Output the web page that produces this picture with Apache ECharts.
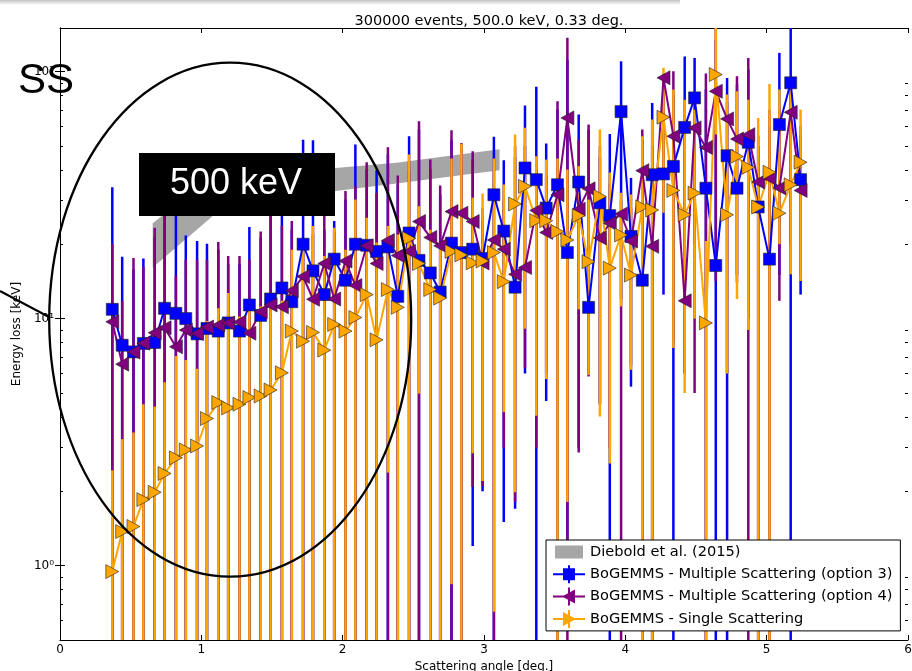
<!DOCTYPE html>
<html>
<head>
<meta charset="utf-8">
<script src="https://cdn.jsdelivr.net/npm/echarts@6/dist/echarts.min.js"></script>
<style>
  html, body { margin: 0; padding: 0; background: #ffffff; }
  #chart { width: 912px; height: 671px; }
</style>
</head>
<body>
<div id="chart"></div>
<script>
// Scattering angle of each bin centre [deg.]
const angles = [
  0.37, 0.44, 0.52, 0.59, 0.67, 0.74, 0.82, 0.89, 0.97, 1.04,
  1.12, 1.19, 1.27, 1.34, 1.42, 1.49, 1.57, 1.64, 1.72, 1.79,
  1.87, 1.94, 2.02, 2.09, 2.17, 2.24, 2.32, 2.39, 2.47, 2.54,
  2.62, 2.69, 2.77, 2.84, 2.92, 2.99, 3.07, 3.14, 3.22, 3.29,
  3.37, 3.44, 3.52, 3.59, 3.67, 3.74, 3.82, 3.89, 3.97, 4.04,
  4.12, 4.19, 4.27, 4.34, 4.42, 4.49, 4.57, 4.64, 4.72, 4.79,
  4.87, 4.94, 5.02, 5.09, 5.17, 5.24
];

// BoGEMMS - Multiple Scattering (option 3): energy loss [keV] and error bar ends
const msOpt3 = [
  10.9, 7.8, 7.33, 7.93, 8.0, 11.0, 10.5, 10.0, 8.67, 9.12,
  8.9, 9.6, 8.9, 11.35, 10.3, 12.0, 13.3, 11.7, 20.0, 15.6,
  12.5, 17.4, 14.3, 20.0, 19.8, 18.7, 19.5, 12.3, 22.2, 17.2,
  15.3, 12.8, 20.2, 18.5, 19.1, 17.5, 31.7, 22.6, 13.4, 40.7,
  36.5, 28.0, 34.8, 18.5, 35.7, 11.1, 29.4, 26.1, 68.8, 21.5,
  14.3, 38.2, 38.5, 41.3, 59.4, 78.2, 33.7, 16.4, 45.6, 33.7,
  51.7, 28.3, 17.4, 61.0, 90.0, 36.5
];
const msOpt3Low = [
  0.4, 0.4, 0.4, 0.4, 0.4, 0.4, 0.4, 0.4, 0.4, 0.4,
  0.4, 0.4, 0.4, 0.4, 0.4, 0.4, 0.4, 0.4, 0.4, 0.4,
  0.4, 0.4, 0.4, 0.4, 0.4, 0.4, 0.4, 0.4, 0.4, 0.4,
  0.4, 0.4, 0.4, 0.4, 1.2, 2.0, 0.5, 1.5, 1.7, 6.0,
  0.4, 4.64, 0.5, 1.0, 3.0, 6.0, 4.5, 0.4, 12.0, 5.3,
  0.4, 0.4, 12.5, 0.4, 6.0, 20.0, 0.5, 0.4, 0.4, 15.0,
  10.0, 0.5, 0.5, 15.0, 0.4, 12.5
];
const msOpt3High = [
  34.0, 17.8, 15.8, 17.5, 21.3, 31.8, 29.0, 21.7, 20.6, 20.1,
  19.0, 16.6, 16.6, 23.5, 21.3, 27.7, 26.0, 22.9, 53.0, 52.7,
  22.9, 24.8, 30.3, 50.6, 40.1, 39.8, 46.1, 34.9, 54.7, 58.2,
  40.1, 31.8, 53.0, 48.3, 44.0, 25.0, 54.4, 43.7, 45.0, 72.8,
  86.7, 51.1, 70.1, 111.7, 67.0, 58.2, 45.0, 55.9, 110, 37.1,
  53.0, 74.6, 80.0, 80.0, 115, 113.5, 84.5, 134.6, 94.2, 88.5,
  101.8, 50.0, 60.0, 119, 170, 55.0
];

// BoGEMMS - Multiple Scattering (option 4)
const msOpt4 = [
  9.7, 6.54, 7.33, 7.95, 8.76, 9.18, 7.69, 8.98, 8.7, 9.24,
  9.41, 9.59, 9.68, 8.73, 10.66, 11.35, 11.16, 12.97, 14.8, 11.97,
  16.7, 12.0, 17.1, 13.6, 19.7, 16.7, 20.7, 18.0, 18.7, 24.7,
  21.3, 19.7, 27.1, 26.7, 24.7, 16.8, 20.8, 19.1, 15.1, 16.1,
  27.4, 22.3, 31.7, 64.9, 27.7, 33.5, 21.2, 24.3, 26.5, 20.6,
  39.7, 19.6, 94.3, 54.7, 11.8, 59.1, 49.3, 83.2, 64.3, 53.3,
  55.5, 35.7, 37.0, 33.8, 68.4, 33.0
];
const msOpt4Low = [
  0.4, 0.4, 0.4, 0.4, 0.4, 0.4, 0.4, 0.4, 0.4, 0.4,
  0.4, 0.4, 0.4, 0.4, 0.4, 0.4, 0.4, 0.4, 0.4, 0.4,
  0.4, 0.4, 0.4, 0.4, 0.4, 0.4, 0.4, 0.4, 0.4, 0.4,
  0.4, 0.4, 0.4, 0.4, 2.08, 2.1, 0.5, 3.0, 1.81, 6.3,
  3.0, 6.0, 0.5, 0.4, 2.87, 5.83, 4.5, 3.0, 0.4, 6.5,
  0.4, 0.4, 30.0, 8.0, 6.0, 5.0, 0.5, 14.2, 6.0, 14.0,
  0.4, 0.5, 0.5, 11.8, 20.0, 15.0
];
const msOpt4High = [
  20.1, 11.8, 17.6, 16.2, 23.3, 26.1, 14.9, 17.3, 17.3, 17.3,
  20.4, 17.9, 17.9, 17.3, 22.5, 30.8, 23.8, 24.8, 19.0, 21.9,
  26.4, 22.5, 32.8, 34.3, 42.9, 32.3, 49.4, 37.9, 40.0, 62.9,
  44.0, 34.6, 57.8, 51.4, 47.6, 28.0, 40.0, 30.0, 50.0, 50.0,
  40.0, 38.0, 75.8, 137, 53.0, 61.0, 50.0, 35.0, 30.0, 28.0,
  58.2, 50.0, 98.0, 100.2, 60.0, 65.0, 98.1, 170, 75.0, 95.7,
  113.5, 55.0, 70.0, 70.0, 85.0, 60.0
];

// BoGEMMS - Single Scattering
const singleSc = [
  0.946, 1.374, 1.44, 1.85, 1.98, 2.36, 2.73, 2.94, 3.05, 3.94,
  4.57, 4.35, 4.5, 4.79, 4.86, 5.14, 6.03, 8.9, 8.1, 8.79,
  7.45, 9.47, 8.9, 10.1, 12.5, 8.2, 13.1, 11.1, 21.1, 16.7,
  13.1, 12.1, 18.7, 18.1, 16.8, 17.1, 18.5, 14.1, 29.1, 34.3,
  24.9, 24.9, 22.5, 20.8, 26.1, 17.0, 31.2, 16.0, 21.8, 15.0,
  28.3, 27.5, 65.3, 33.0, 26.3, 32.2, 9.6, 97.2, 26.3, 45.3,
  40.9, 28.3, 39.1, 26.7, 34.8, 42.9
];
const singleScLow = [
  0.4, 0.4, 0.4, 0.4, 0.4, 0.4, 0.4, 0.4, 0.4, 0.4,
  0.4, 0.4, 0.4, 0.4, 0.4, 0.4, 0.4, 0.4, 0.4, 0.4,
  0.4, 0.4, 0.4, 0.4, 0.4, 0.4, 2.38, 0.4, 0.4, 4.97,
  0.4, 0.4, 0.84, 0.4, 2.85, 2.2, 0.65, 4.18, 1.98, 9.1,
  4.04, 5.69, 0.4, 1.81, 10.9, 5.92, 4.01, 2.59, 11.2, 6.2,
  0.4, 0.4, 26.8, 7.6, 5.0, 10.0, 0.4, 55.6, 6.0, 12.0,
  9.0, 0.4, 0.4, 20.0, 15.1, 14.2
];
const singleScHigh = [
  2.43, 3.25, 3.46, 4.50, 4.40, 5.52, 7.05, 6.79, 6.27, 9.77,
  11.0, 12.7, 10.2, 11.2, 11.2, 11.4, 11.8, 19.0, 20.3, 23.7,
  17.9, 23.3, 19.0, 30.3, 25.6, 20.3, 23.7, 21.9, 46.1, 28.5,
  22.9, 20.3, 44.4, 51.0, 30.8, 32.1, 44.4, 34.9, 55.6, 59.2,
  45.4, 44.0, 44.4, 40.1, 41.4, 30.3, 58.2, 39.0, 32.3, 31.8,
  54.7, 63.9, 103.5, 84.5, 76.9, 70.1, 20.6, 170, 80.7, 83.2,
  76.9, 64.9, 89.1, 84.5, 92.7, 70.1
];

// Diebold et al. (2015) band
const dieboldAngle = [0.656, 1.083, 1.95, 2.38, 3.11];
const dieboldLow = [16.1, 26.1, 32.8, 35.2, 39.8];
const dieboldHigh = [24.3, 37.9, 40.7, 42.7, 48.4];

// Axis ticks
const xTicks = [0, 1, 2, 3, 4, 5, 6];
const yMajorTicks = [1, 10, 100];
const yMajorLabels = ['10\u2070', '10\u00B9', '10\u00B2'];
const yMinorTicks = [0.6, 0.7, 0.8, 0.9, 2, 3, 4, 5, 6, 7, 8, 9,
  20, 30, 40, 50, 60, 70, 80, 90];

const Y_MIN = 0.5;
const Y_MAX = 150;
const FONT = 'DejaVu Sans';

const COLOR_OPT3 = '#0000ff';
const COLOR_OPT4 = '#800080';
const COLOR_SS = '#ffa500';
const COLOR_BAND = '#a6a6a6';

const NAME_BAND = 'Diebold et al. (2015)';
const NAME_OPT3 = 'BoGEMMS - Multiple Scattering (option 3)';
const NAME_OPT4 = 'BoGEMMS - Multiple Scattering (option 4)';
const NAME_SS = 'BoGEMMS - Single Scattering';

const SYMBOL_LEFT = 'path://M0,7L14,0L14,14Z';
const SYMBOL_RIGHT = 'path://M14,7L0,14L0,0Z';

// legend glyphs: horizontal line + vertical error bar + marker
const ICON_BAND = 'path://M0,0L0,0ZM32,18L32,18ZM2,2.5L30,2.5L30,15.5L2,15.5Z';
const ICON_SQUARE = 'path://M0,8L32,8L32,10L0,10ZM15,0L17,0L17,18L15,18ZM10,3L22,3L22,15L10,15Z';
const ICON_LEFT = 'path://M0,8L32,8L32,10L0,10ZM15,0L17,0L17,18L15,18ZM9,9L22,2L22,16Z';
const ICON_RIGHT = 'path://M0,8L32,8L32,10L0,10ZM15,0L17,0L17,18L15,18ZM23,9L10,16L10,2Z';

function errorBars(name, color, lows, highs, vals) {
  return {
    name: name,
    type: 'custom',
    coordinateSystem: 'cartesian2d',
    silent: true,
    z: 2,
    data: angles.map((x, i) => [x, vals[i], lows[i], highs[i]]),
    encode: { x: 0, y: 1 },
    renderItem: function (params, api) {
      const x = api.value(0);
      const lo = Math.max(api.value(2), Y_MIN);
      const hi = Math.min(api.value(3), Y_MAX);
      const p1 = api.coord([x, lo]);
      const p2 = api.coord([x, hi]);
      return {
        type: 'line',
        shape: { x1: p1[0], y1: p1[1], x2: p2[0], y2: p2[1] },
        style: { stroke: color, lineWidth: 2.5 }
      };
    }
  };
}

function dataLine(name, color, vals, symbol, size) {
  return {
    name: name,
    type: 'line',
    z: 3,
    data: angles.map((x, i) => [x, vals[i]]),
    symbol: symbol,
    symbolSize: size,
    showSymbol: true,
    showAllSymbol: true,
    lineStyle: { color: color, width: 2 },
    itemStyle: { color: color, borderColor: '#222222', borderWidth: 0.6 },
    emphasis: { disabled: true }
  };
}

function yAxisBase(position) {
  return {
    type: 'log',
    logBase: 10,
    min: Y_MIN,
    max: Y_MAX,
    position: position,
    splitLine: { show: false },
    minorTick: { show: false },
    axisLine: { show: true, lineStyle: { color: '#000', width: 1 } }
  };
}

const chart = echarts.init(document.getElementById('chart'), null, { renderer: 'canvas' });

chart.setOption({
  animation: false,
  backgroundColor: '#ffffff',
  title: {
    text: '300000 events, 500.0 keV, 0.33 deg.',
    left: 484,
    top: 9,
    textAlign: 'center',
    textStyle: { fontFamily: FONT, fontSize: 14.5, fontWeight: 'normal', color: '#000' }
  },
  grid: { left: 60, top: 28, width: 848, height: 612, containLabel: false, outerBoundsMode: 'none' },
  xAxis: [
    {
      type: 'value', min: 0, max: 6, interval: 1, position: 'bottom',
      name: 'Scattering angle [deg.]', nameLocation: 'middle', nameGap: 19,
      nameTextStyle: { fontFamily: FONT, fontSize: 12, color: '#000' },
      splitLine: { show: false },
      axisLine: { lineStyle: { color: '#000', width: 1 } },
      axisTick: { inside: true, length: 5, lineStyle: { color: '#000' } },
      axisLabel: {
        fontFamily: FONT, fontSize: 12, color: '#000', margin: 4,
        formatter: v => String(xTicks[Math.round(v)])
      }
    },
    {
      type: 'value', min: 0, max: 6, interval: 1, position: 'top',
      splitLine: { show: false },
      axisLine: { lineStyle: { color: '#000', width: 1 } },
      axisTick: { inside: true, length: 5, lineStyle: { color: '#000' } },
      axisLabel: { show: false }
    }
  ],
  yAxis: [
    Object.assign(yAxisBase('left'), {
      name: 'Energy loss [keV]', nameLocation: 'middle', nameGap: 32, nameRotate: 90,
      nameTextStyle: { fontFamily: FONT, fontSize: 12, color: '#000' },
      axisTick: { inside: true, length: 5, customValues: yMajorTicks, lineStyle: { color: '#000' } },
      axisLabel: {
        customValues: yMajorTicks, fontFamily: FONT, fontSize: 12, color: '#000', margin: 6,
        formatter: v => yMajorLabels[Math.round(Math.log10(v))]
      }
    }),
    Object.assign(yAxisBase('right'), {
      axisTick: { inside: true, length: 5, customValues: yMajorTicks, lineStyle: { color: '#000' } },
      axisLabel: { show: false }
    }),
    Object.assign(yAxisBase('left'), {
      axisLine: { show: false },
      axisTick: { inside: true, length: 3, customValues: yMinorTicks, lineStyle: { color: '#000' } },
      axisLabel: { show: false }
    }),
    Object.assign(yAxisBase('right'), {
      axisLine: { show: false },
      axisTick: { inside: true, length: 3, customValues: yMinorTicks, lineStyle: { color: '#000' } },
      axisLabel: { show: false }
    })
  ],
  legend: {
    orient: 'vertical',
    left: 546,
    top: 540,
    padding: [3, 8, 3, 7],
    itemGap: 4.3,
    itemWidth: 32,
    itemHeight: 18,
    itemTextGap: 8,
    backgroundColor: '#ffffff',
    borderColor: '#000000',
    borderWidth: 1,
    borderRadius: 0,
    selectedMode: false,
    textStyle: { fontFamily: FONT, fontSize: 14.6, color: '#000' },
    data: [
      { name: NAME_BAND, icon: ICON_BAND, itemStyle: { color: COLOR_BAND, borderWidth: 0 } },
      { name: NAME_OPT3, icon: ICON_SQUARE, itemStyle: { color: COLOR_OPT3, borderWidth: 0 } },
      { name: NAME_OPT4, icon: ICON_LEFT, itemStyle: { color: COLOR_OPT4, borderWidth: 0 } },
      { name: NAME_SS, icon: ICON_RIGHT, itemStyle: { color: COLOR_SS, borderWidth: 0 } }
    ]
  },
  series: [
    {
      name: NAME_BAND,
      type: 'custom',
      coordinateSystem: 'cartesian2d',
      silent: true,
      z: 1,
      itemStyle: { color: COLOR_BAND },
      data: [[dieboldAngle[0], dieboldLow[0]]],
      encode: { x: 0, y: 1 },
      renderItem: function (params, api) {
        const top = dieboldAngle.map((x, i) => api.coord([x, dieboldHigh[i]]));
        const bottom = dieboldAngle.map((x, i) => api.coord([x, dieboldLow[i]])).reverse();
        return { type: 'polygon', shape: { points: top.concat(bottom) }, style: { fill: COLOR_BAND } };
      }
    },
    errorBars('opt3 errors', COLOR_OPT3, msOpt3Low, msOpt3High, msOpt3),
    errorBars('opt4 errors', COLOR_OPT4, msOpt4Low, msOpt4High, msOpt4),
    errorBars('ss errors', COLOR_SS, singleScLow, singleScHigh, singleSc),
    dataLine(NAME_OPT3, COLOR_OPT3, msOpt3, 'rect', 12),
    dataLine(NAME_OPT4, COLOR_OPT4, msOpt4, SYMBOL_LEFT, [13, 14]),
    dataLine(NAME_SS, COLOR_SS, singleSc, SYMBOL_RIGHT, [13, 14])
  ],
  graphic: [
    {
      type: 'rect', silent: true, z: 0,
      shape: { x: 0, y: 0, width: 680, height: 5 },
      style: {
        fill: new echarts.graphic.LinearGradient(0, 0, 0, 1, [
          { offset: 0, color: '#c4c4c4' }, { offset: 1, color: '#ffffff' }
        ])
      }
    },
    {
      type: 'ellipse', silent: true, z: 100,
      shape: { cx: 230.2, cy: 319.7, rx: 181, ry: 257 },
      style: { fill: 'none', stroke: '#000', lineWidth: 2.3 }
    },
    {
      type: 'line', silent: true, z: 100,
      shape: { x1: 0, y1: 291, x2: 49, y2: 317 },
      style: { stroke: '#000', lineWidth: 2 }
    },
    {
      type: 'rect', silent: true, z: 100,
      shape: { x: 139, y: 153, width: 196, height: 63 },
      style: { fill: '#000' }
    },
    {
      type: 'text', silent: true, z: 101,
      style: {
        text: '500 keV', x: 170, y: 184, fill: '#ffffff',
        fontFamily: 'Liberation Sans', fontSize: 36, align: 'left', verticalAlign: 'middle'
      }
    },
    {
      type: 'text', silent: true, z: 101,
      style: {
        text: 'SS', x: 18, y: 81, fill: '#000000',
        fontFamily: 'Liberation Sans', fontSize: 42, align: 'left', verticalAlign: 'middle'
      }
    }
  ]
});
</script>
</body>
</html>
